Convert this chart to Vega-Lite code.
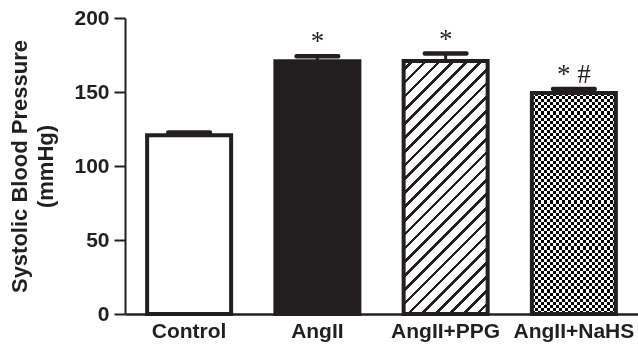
{
  "$schema": "https://vega.github.io/schema/vega-lite/v6.json",
  "autosize": {"type": "none"},
  "padding": {"left": 125, "top": 18, "right": 0, "bottom": 32},
  "width": 513,
  "height": 296,
  "config": {"view": {"stroke": null}, "font": "Liberation Sans"},
  "data": {"values": [
    {"group": "Control", "value": 120.7, "err": 122.6, "label": ""},
    {"group": "AngII", "value": 170.7, "err": 174.1, "label": "*"},
    {"group": "AngII+PPG", "value": 170.9, "err": 176.0, "label": "*"},
    {"group": "AngII+NaHS", "value": 149.3, "err": 152.0, "label": "* #"}
  ]},
  "encoding": {
    "x": {"field": "group", "type": "nominal", "sort": null,
      "scale": {"paddingInner": 0.345, "paddingOuter": 0.1725},
      "axis": {"title": null, "labelAngle": 0, "ticks": false, "domainColor": "#231f20", "domainWidth": 2.5,
        "labelFont": "Liberation Sans", "labelFontWeight": "bold", "labelFontSize": 21, "labelColor": "#231f20", "labelPadding": 6}},
    "y": {"field": "value", "type": "quantitative",
      "scale": {"domain": [0, 200], "nice": false},
      "axis": {"title": ["Systolic Blood Pressure", "(mmHg)"], "values": [0, 50, 100, 150, 200], "grid": false,
        "domainColor": "#231f20", "domainWidth": 2, "tickColor": "#231f20", "tickWidth": 2, "tickSize": 11,
        "labelPadding": 5, "labelFont": "Liberation Sans", "labelFontSize": 21, "labelFontWeight": "bold", "labelColor": "#231f20",
        "titleFont": "Liberation Sans", "titleFontSize": 22, "titleFontWeight": "bold", "titleColor": "#231f20",
        "titleLineHeight": 26, "titlePadding": 16}}
  },
  "layer": [
    {"transform": [{"filter": "datum.group === 'Control'"}], "mark": {"type": "bar", "fill": "#ffffff", "opacity": 1}},
    {"transform": [{"filter": "datum.group === 'AngII'"}], "mark": {"type": "bar", "fill": "#231f20", "opacity": 1}},
    {"transform": [{"filter": "datum.group === 'AngII+PPG'"}], "mark": {"type": "bar", "opacity": 1,
      "fill": {"gradient": "linear", "x1": 0, "y1": 0, "x2": 0.3985, "y2": 1.1998, "stops": [
        {"offset": 0, "color": "#fff"},
        {"offset": 0.020, "color": "#fff"}, {"offset": 0.020, "color": "#231f20"}, {"offset": 0.031, "color": "#231f20"}, {"offset": 0.031, "color": "#fff"},
        {"offset": 0.061, "color": "#fff"}, {"offset": 0.061, "color": "#231f20"}, {"offset": 0.072, "color": "#231f20"}, {"offset": 0.072, "color": "#fff"},
        {"offset": 0.102, "color": "#fff"}, {"offset": 0.102, "color": "#231f20"}, {"offset": 0.113, "color": "#231f20"}, {"offset": 0.113, "color": "#fff"},
        {"offset": 0.143, "color": "#fff"}, {"offset": 0.143, "color": "#231f20"}, {"offset": 0.154, "color": "#231f20"}, {"offset": 0.154, "color": "#fff"},
        {"offset": 0.184, "color": "#fff"}, {"offset": 0.184, "color": "#231f20"}, {"offset": 0.195, "color": "#231f20"}, {"offset": 0.195, "color": "#fff"},
        {"offset": 0.225, "color": "#fff"}, {"offset": 0.225, "color": "#231f20"}, {"offset": 0.236, "color": "#231f20"}, {"offset": 0.236, "color": "#fff"},
        {"offset": 0.266, "color": "#fff"}, {"offset": 0.266, "color": "#231f20"}, {"offset": 0.277, "color": "#231f20"}, {"offset": 0.277, "color": "#fff"},
        {"offset": 0.307, "color": "#fff"}, {"offset": 0.307, "color": "#231f20"}, {"offset": 0.318, "color": "#231f20"}, {"offset": 0.318, "color": "#fff"},
        {"offset": 0.348, "color": "#fff"}, {"offset": 0.348, "color": "#231f20"}, {"offset": 0.359, "color": "#231f20"}, {"offset": 0.359, "color": "#fff"},
        {"offset": 0.389, "color": "#fff"}, {"offset": 0.389, "color": "#231f20"}, {"offset": 0.400, "color": "#231f20"}, {"offset": 0.400, "color": "#fff"},
        {"offset": 0.430, "color": "#fff"}, {"offset": 0.430, "color": "#231f20"}, {"offset": 0.441, "color": "#231f20"}, {"offset": 0.441, "color": "#fff"},
        {"offset": 0.471, "color": "#fff"}, {"offset": 0.471, "color": "#231f20"}, {"offset": 0.482, "color": "#231f20"}, {"offset": 0.482, "color": "#fff"},
        {"offset": 0.512, "color": "#fff"}, {"offset": 0.512, "color": "#231f20"}, {"offset": 0.523, "color": "#231f20"}, {"offset": 0.523, "color": "#fff"},
        {"offset": 0.553, "color": "#fff"}, {"offset": 0.553, "color": "#231f20"}, {"offset": 0.564, "color": "#231f20"}, {"offset": 0.564, "color": "#fff"},
        {"offset": 0.594, "color": "#fff"}, {"offset": 0.594, "color": "#231f20"}, {"offset": 0.605, "color": "#231f20"}, {"offset": 0.605, "color": "#fff"},
        {"offset": 0.635, "color": "#fff"}, {"offset": 0.635, "color": "#231f20"}, {"offset": 0.646, "color": "#231f20"}, {"offset": 0.646, "color": "#fff"},
        {"offset": 0.676, "color": "#fff"}, {"offset": 0.676, "color": "#231f20"}, {"offset": 0.687, "color": "#231f20"}, {"offset": 0.687, "color": "#fff"},
        {"offset": 0.717, "color": "#fff"}, {"offset": 0.717, "color": "#231f20"}, {"offset": 0.728, "color": "#231f20"}, {"offset": 0.728, "color": "#fff"},
        {"offset": 0.758, "color": "#fff"}, {"offset": 0.758, "color": "#231f20"}, {"offset": 0.769, "color": "#231f20"}, {"offset": 0.769, "color": "#fff"},
        {"offset": 0.799, "color": "#fff"}, {"offset": 0.799, "color": "#231f20"}, {"offset": 0.810, "color": "#231f20"}, {"offset": 0.810, "color": "#fff"},
        {"offset": 0.840, "color": "#fff"}, {"offset": 0.840, "color": "#231f20"}, {"offset": 0.851, "color": "#231f20"}, {"offset": 0.851, "color": "#fff"},
        {"offset": 0.881, "color": "#fff"}, {"offset": 0.881, "color": "#231f20"}, {"offset": 0.892, "color": "#231f20"}, {"offset": 0.892, "color": "#fff"},
        {"offset": 0.922, "color": "#fff"}, {"offset": 0.922, "color": "#231f20"}, {"offset": 0.933, "color": "#231f20"}, {"offset": 0.933, "color": "#fff"},
        {"offset": 0.963, "color": "#fff"}, {"offset": 0.963, "color": "#231f20"}, {"offset": 0.974, "color": "#231f20"}, {"offset": 0.974, "color": "#fff"},
        {"offset": 1, "color": "#fff"}
      ]}}},
    {"transform": [{"filter": "datum.group === 'AngII+NaHS'"}], "mark": {"type": "bar", "opacity": 1,
      "fill": {"gradient": "linear", "x1": 0, "y1": 0, "x2": 0, "y2": 1, "stops": [
        {"offset":0,"color":"#000"},
        {"offset":0.0139,"color":"#000"},{"offset":0.0139,"color":"#fff"},
        {"offset":0.0278,"color":"#fff"},{"offset":0.0278,"color":"#000"},
        {"offset":0.0417,"color":"#000"},{"offset":0.0417,"color":"#fff"},
        {"offset":0.0556,"color":"#fff"},{"offset":0.0556,"color":"#000"},
        {"offset":0.0694,"color":"#000"},{"offset":0.0694,"color":"#fff"},
        {"offset":0.0833,"color":"#fff"},{"offset":0.0833,"color":"#000"},
        {"offset":0.0972,"color":"#000"},{"offset":0.0972,"color":"#fff"},
        {"offset":0.1111,"color":"#fff"},{"offset":0.1111,"color":"#000"},
        {"offset":0.125,"color":"#000"},{"offset":0.125,"color":"#fff"},
        {"offset":0.1389,"color":"#fff"},{"offset":0.1389,"color":"#000"},
        {"offset":0.1528,"color":"#000"},{"offset":0.1528,"color":"#fff"},
        {"offset":0.1667,"color":"#fff"},{"offset":0.1667,"color":"#000"},
        {"offset":0.1806,"color":"#000"},{"offset":0.1806,"color":"#fff"},
        {"offset":0.1944,"color":"#fff"},{"offset":0.1944,"color":"#000"},
        {"offset":0.2083,"color":"#000"},{"offset":0.2083,"color":"#fff"},
        {"offset":0.2222,"color":"#fff"},{"offset":0.2222,"color":"#000"},
        {"offset":0.2361,"color":"#000"},{"offset":0.2361,"color":"#fff"},
        {"offset":0.25,"color":"#fff"},{"offset":0.25,"color":"#000"},
        {"offset":0.2639,"color":"#000"},{"offset":0.2639,"color":"#fff"},
        {"offset":0.2778,"color":"#fff"},{"offset":0.2778,"color":"#000"},
        {"offset":0.2917,"color":"#000"},{"offset":0.2917,"color":"#fff"},
        {"offset":0.3056,"color":"#fff"},{"offset":0.3056,"color":"#000"},
        {"offset":0.3194,"color":"#000"},{"offset":0.3194,"color":"#fff"},
        {"offset":0.3333,"color":"#fff"},{"offset":0.3333,"color":"#000"},
        {"offset":0.3472,"color":"#000"},{"offset":0.3472,"color":"#fff"},
        {"offset":0.3611,"color":"#fff"},{"offset":0.3611,"color":"#000"},
        {"offset":0.375,"color":"#000"},{"offset":0.375,"color":"#fff"},
        {"offset":0.3889,"color":"#fff"},{"offset":0.3889,"color":"#000"},
        {"offset":0.4028,"color":"#000"},{"offset":0.4028,"color":"#fff"},
        {"offset":0.4167,"color":"#fff"},{"offset":0.4167,"color":"#000"},
        {"offset":0.4306,"color":"#000"},{"offset":0.4306,"color":"#fff"},
        {"offset":0.4444,"color":"#fff"},{"offset":0.4444,"color":"#000"},
        {"offset":0.4583,"color":"#000"},{"offset":0.4583,"color":"#fff"},
        {"offset":0.4722,"color":"#fff"},{"offset":0.4722,"color":"#000"},
        {"offset":0.4861,"color":"#000"},{"offset":0.4861,"color":"#fff"},
        {"offset":0.5,"color":"#fff"},{"offset":0.5,"color":"#000"},
        {"offset":0.5139,"color":"#000"},{"offset":0.5139,"color":"#fff"},
        {"offset":0.5278,"color":"#fff"},{"offset":0.5278,"color":"#000"},
        {"offset":0.5417,"color":"#000"},{"offset":0.5417,"color":"#fff"},
        {"offset":0.5556,"color":"#fff"},{"offset":0.5556,"color":"#000"},
        {"offset":0.5694,"color":"#000"},{"offset":0.5694,"color":"#fff"},
        {"offset":0.5833,"color":"#fff"},{"offset":0.5833,"color":"#000"},
        {"offset":0.5972,"color":"#000"},{"offset":0.5972,"color":"#fff"},
        {"offset":0.6111,"color":"#fff"},{"offset":0.6111,"color":"#000"},
        {"offset":0.625,"color":"#000"},{"offset":0.625,"color":"#fff"},
        {"offset":0.6389,"color":"#fff"},{"offset":0.6389,"color":"#000"},
        {"offset":0.6528,"color":"#000"},{"offset":0.6528,"color":"#fff"},
        {"offset":0.6667,"color":"#fff"},{"offset":0.6667,"color":"#000"},
        {"offset":0.6806,"color":"#000"},{"offset":0.6806,"color":"#fff"},
        {"offset":0.6944,"color":"#fff"},{"offset":0.6944,"color":"#000"},
        {"offset":0.7083,"color":"#000"},{"offset":0.7083,"color":"#fff"},
        {"offset":0.7222,"color":"#fff"},{"offset":0.7222,"color":"#000"},
        {"offset":0.7361,"color":"#000"},{"offset":0.7361,"color":"#fff"},
        {"offset":0.75,"color":"#fff"},{"offset":0.75,"color":"#000"},
        {"offset":0.7639,"color":"#000"},{"offset":0.7639,"color":"#fff"},
        {"offset":0.7778,"color":"#fff"},{"offset":0.7778,"color":"#000"},
        {"offset":0.7917,"color":"#000"},{"offset":0.7917,"color":"#fff"},
        {"offset":0.8056,"color":"#fff"},{"offset":0.8056,"color":"#000"},
        {"offset":0.8194,"color":"#000"},{"offset":0.8194,"color":"#fff"},
        {"offset":0.8333,"color":"#fff"},{"offset":0.8333,"color":"#000"},
        {"offset":0.8472,"color":"#000"},{"offset":0.8472,"color":"#fff"},
        {"offset":0.8611,"color":"#fff"},{"offset":0.8611,"color":"#000"},
        {"offset":0.875,"color":"#000"},{"offset":0.875,"color":"#fff"},
        {"offset":0.8889,"color":"#fff"},{"offset":0.8889,"color":"#000"},
        {"offset":0.9028,"color":"#000"},{"offset":0.9028,"color":"#fff"},
        {"offset":0.9167,"color":"#fff"},{"offset":0.9167,"color":"#000"},
        {"offset":0.9306,"color":"#000"},{"offset":0.9306,"color":"#fff"},
        {"offset":0.9444,"color":"#fff"},{"offset":0.9444,"color":"#000"},
        {"offset":0.9583,"color":"#000"},{"offset":0.9583,"color":"#fff"},
        {"offset":0.9722,"color":"#fff"},{"offset":0.9722,"color":"#000"},
        {"offset":0.9861,"color":"#000"},{"offset":0.9861,"color":"#fff"},
        {"offset":1,"color":"#fff"}
      ]}}},
    {"transform": [{"filter": "datum.group === 'AngII+NaHS'"}], "mark": {"type": "bar", "opacity": 1, "blend": "difference",
      "fill": {"gradient": "linear", "x1": 0, "y1": 0, "x2": 1, "y2": 0, "stops": [
        {"offset":0,"color":"#fff"},
        {"offset":0.0357,"color":"#fff"},{"offset":0.0357,"color":"#000"},
        {"offset":0.0714,"color":"#000"},{"offset":0.0714,"color":"#fff"},
        {"offset":0.1071,"color":"#fff"},{"offset":0.1071,"color":"#000"},
        {"offset":0.1429,"color":"#000"},{"offset":0.1429,"color":"#fff"},
        {"offset":0.1786,"color":"#fff"},{"offset":0.1786,"color":"#000"},
        {"offset":0.2143,"color":"#000"},{"offset":0.2143,"color":"#fff"},
        {"offset":0.25,"color":"#fff"},{"offset":0.25,"color":"#000"},
        {"offset":0.2857,"color":"#000"},{"offset":0.2857,"color":"#fff"},
        {"offset":0.3214,"color":"#fff"},{"offset":0.3214,"color":"#000"},
        {"offset":0.3571,"color":"#000"},{"offset":0.3571,"color":"#fff"},
        {"offset":0.3929,"color":"#fff"},{"offset":0.3929,"color":"#000"},
        {"offset":0.4286,"color":"#000"},{"offset":0.4286,"color":"#fff"},
        {"offset":0.4643,"color":"#fff"},{"offset":0.4643,"color":"#000"},
        {"offset":0.5,"color":"#000"},{"offset":0.5,"color":"#fff"},
        {"offset":0.5357,"color":"#fff"},{"offset":0.5357,"color":"#000"},
        {"offset":0.5714,"color":"#000"},{"offset":0.5714,"color":"#fff"},
        {"offset":0.6071,"color":"#fff"},{"offset":0.6071,"color":"#000"},
        {"offset":0.6429,"color":"#000"},{"offset":0.6429,"color":"#fff"},
        {"offset":0.6786,"color":"#fff"},{"offset":0.6786,"color":"#000"},
        {"offset":0.7143,"color":"#000"},{"offset":0.7143,"color":"#fff"},
        {"offset":0.75,"color":"#fff"},{"offset":0.75,"color":"#000"},
        {"offset":0.7857,"color":"#000"},{"offset":0.7857,"color":"#fff"},
        {"offset":0.8214,"color":"#fff"},{"offset":0.8214,"color":"#000"},
        {"offset":0.8571,"color":"#000"},{"offset":0.8571,"color":"#fff"},
        {"offset":0.8929,"color":"#fff"},{"offset":0.8929,"color":"#000"},
        {"offset":0.9286,"color":"#000"},{"offset":0.9286,"color":"#fff"},
        {"offset":0.9643,"color":"#fff"},{"offset":0.9643,"color":"#000"},
        {"offset":1,"color":"#000"}
      ]}}},
    {"mark": {"type": "bar", "fillOpacity": 0, "opacity": 1, "stroke": "#231f20", "strokeWidth": 4, "strokeJoin": "miter"}},
    {"mark": {"type": "rule", "color": "#231f20", "strokeWidth": 3, "opacity": 1},
      "encoding": {"y2": {"field": "err"}}},
    {"mark": {"type": "tick", "orient": "horizontal", "size": 46, "thickness": 4.5, "color": "#231f20", "cornerRadius": 2, "opacity": 1},
      "encoding": {"y": {"field": "err", "type": "quantitative"}}},
    {"mark": {"type": "text", "font": "Liberation Serif", "fontSize": 27, "color": "#231f20", "baseline": "alphabetic", "dy": -6},
      "encoding": {"y": {"field": "err", "type": "quantitative"}, "text": {"field": "label"}}}
  ]
}
